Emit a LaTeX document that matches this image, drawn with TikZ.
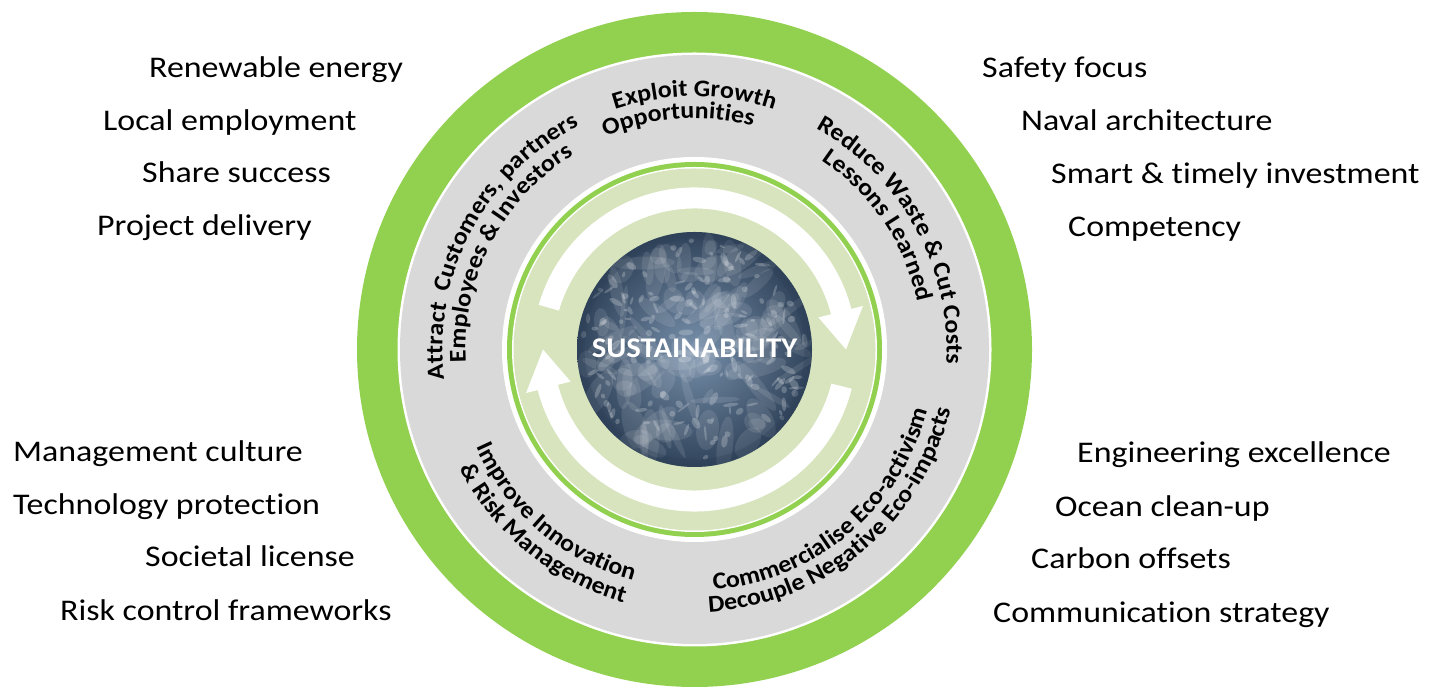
\documentclass[tikz,border=0pt]{standalone}
\usepackage{fontspec}
\setmainfont{Carlito}[Ligatures=NoCommon]
\newfontfamily\sidefam{Carlito}[FakeStretch=1.13, Ligatures=NoCommon]
\newfontfamily\ringfam{Carlito}[FakeStretch=1.08, Ligatures=NoCommon]
\usetikzlibrary{decorations.text}
\definecolor{ringgreen}{HTML}{92D050}
\definecolor{ringgrey}{HTML}{D9D9D9}
\definecolor{palegreen}{HTML}{D7E4BD}
\definecolor{earthA}{HTML}{7890AB}
\definecolor{earthB}{HTML}{2B3E55}
\newcommand\ringfont{\ringfam\bfseries\fontsize{24}{24}\selectfont}
\newcommand\sidefont{\sidefam\fontsize{30}{30}\selectfont}
\tikzset{
  sidetext/.style={anchor=base west, inner sep=0pt, font=\sidefont, text=black},
  arrowband/.style={fill=white, draw=none},
}
\begin{document}
\begin{tikzpicture}[x=1pt,y=1pt]
\useasboundingbox (0,0) rectangle (1445,687);
\coordinate (C) at (694.5,337.5);
\begin{scope}[shift={(C)}]
  % rings
  \fill[ringgreen] (0,0) circle[radius=337.5];
  \fill[white] (0,0) circle[radius=297];
  \fill[ringgrey] (0,0) circle[radius=294.5];
  \fill[white] (0,0) circle[radius=192.5];
  \fill[ringgreen] (0,0) circle[radius=187.5];
  \fill[white] (0,0) circle[radius=182.5];
  \fill[palegreen] (0,0) circle[radius=181];
  % circular arrows
  \fill[arrowband] (164:162) arc[start angle=164, end angle=14.5, radius=162]
     -- (14.5:174) -- (0:151.5) -- (14.5:128) -- (14.5:141)
     arc[start angle=14.5, end angle=164, radius=141] -- cycle;
  \fill[arrowband] (-14:162) arc[start angle=-14, end angle=-165.5, radius=162]
     -- (194.5:174) -- (180:151.5) -- (194.5:128) -- (194.5:141)
     arc[start angle=194.5, end angle=346, radius=141] -- cycle;
  % earth
  \begin{scope}
    \clip (0,0) circle[radius=117.5];
    \shade[inner color=earthA, outer color=earthB] (-125,-125) rectangle (125,125);
    \pgfmathsetseed{11}
    \foreach \i in {1,...,110}{
      \pgfmathsetmacro\aa{rnd*360}
      \pgfmathsetmacro\dd{sqrt(rnd)*110}
      \pgfmathsetmacro\ww{8+rnd*24}
      \pgfmathsetmacro\hh{3+rnd*9}
      \pgfmathsetmacro\rr{rnd*180}
      \fill[white, opacity=0.1, rotate around={\rr:(\aa:\dd)}] (\aa:\dd) ellipse[x radius=\ww, y radius=\hh];
    }
    \foreach \i in {1,...,160}{
      \pgfmathsetmacro\aa{rnd*360}
      \pgfmathsetmacro\dd{sqrt(rnd)*112}
      \pgfmathsetmacro\ww{2+rnd*6}
      \pgfmathsetmacro\hh{1+rnd*2.5}
      \pgfmathsetmacro\rr{rnd*180}
      \fill[white, opacity=0.22, rotate around={\rr:(\aa:\dd)}] (\aa:\dd) ellipse[x radius=\ww, y radius=\hh];
    }
    \fill[earthB, opacity=0.3, even odd rule] (0,0) circle[radius=117.5] (0,0) circle[radius=110];
  \end{scope}
  \node[font=\ringfam\bfseries\fontsize{28.5}{28.5}\selectfont, text=white, inner sep=0pt] (sus) at (0,1.5) {SUSTAINABILITY};
  % ring texts (upper: clockwise, tops outward)
  \path[decorate, decoration={text along path, text align=center, text={|\ringfont|Exploit Growth}}]
    (150:253) arc[start angle=150, end angle=30, radius=253];
  \path[decorate, decoration={text along path, text align=center, text={|\ringfont|Opportunities}}]
    (154:231) arc[start angle=154, end angle=34, radius=231];
  \path[decorate, decoration={text along path, text align=center, text={|\ringfont|Attract {\ }Customers, partners}}]
    (212:252) arc[start angle=212, end angle=92, radius=252];
  \path[decorate, decoration={text along path, text align=center, text={|\ringfont|Employees {\&} Investors}}]
    (212.5:229) arc[start angle=212.5, end angle=92.5, radius=229];
  \path[decorate, decoration={text along path, text align=center, text={|\ringfont|Reduce Waste {\&} Cut Costs}}]
    (89:252) arc[start angle=89, end angle=-31, radius=252];
  \path[decorate, decoration={text along path, text align=center, text={|\ringfont|Lessons Learned}}]
    (94:228) arc[start angle=94, end angle=-26, radius=228];
  % lower: counter-clockwise, tops inward
  \path[decorate, decoration={text along path, text align=center, text={|\ringfont|Improve Innovation}}]
    (169.6:239) arc[start angle=169.6, end angle=289.6, radius=239];
  \path[decorate, decoration={text along path, text align=center, text={|\ringfont|{\&} Risk Management}}]
    (170.6:263) arc[start angle=170.6, end angle=290.6, radius=263];
  \path[decorate, decoration={text along path, text align=center, text={|\ringfont|Commercialise Eco-activism}}]
    (250:241) arc[start angle=250, end angle=370, radius=241];
  \path[decorate, decoration={text along path, text align=center, text={|\ringfont|Decouple Negative Eco-impacts}}]
    (250:263) arc[start angle=250, end angle=370, radius=263];
\end{scope}
% side texts (y = 687 - baseline)
\node[sidetext] (l1) at (149,609) {Renewable energy};
\node[sidetext] (l2) at (103,556) {Local employment};
\node[sidetext] (l3) at (142,504) {Share success};
\node[sidetext] (l4) at (97,451) {Project delivery};
\node[sidetext] (r1) at (982,609) {Safety focus};
\node[sidetext] (r2) at (1021,556) {Naval architecture};
\node[sidetext] (r3) at (1051,503) {Smart \& timely investment};
\node[sidetext] (r4) at (1068,450) {Competency};
\node[sidetext] (bl1) at (13,225) {Management culture};
\node[sidetext] (bl2) at (13,172) {Technology protection};
\node[sidetext] (bl3) at (145,120) {Societal license};
\node[sidetext] (bl4) at (60,66) {Risk control frameworks};
\node[sidetext] (br1) at (1077,224) {Engineering excellence};
\node[sidetext] (br2) at (1055,170) {Ocean clean-up};
\node[sidetext] (br3) at (1031,118) {Carbon offsets};
\node[sidetext] (br4) at (993,64) {Communication strategy};
\end{tikzpicture}
\end{document}
